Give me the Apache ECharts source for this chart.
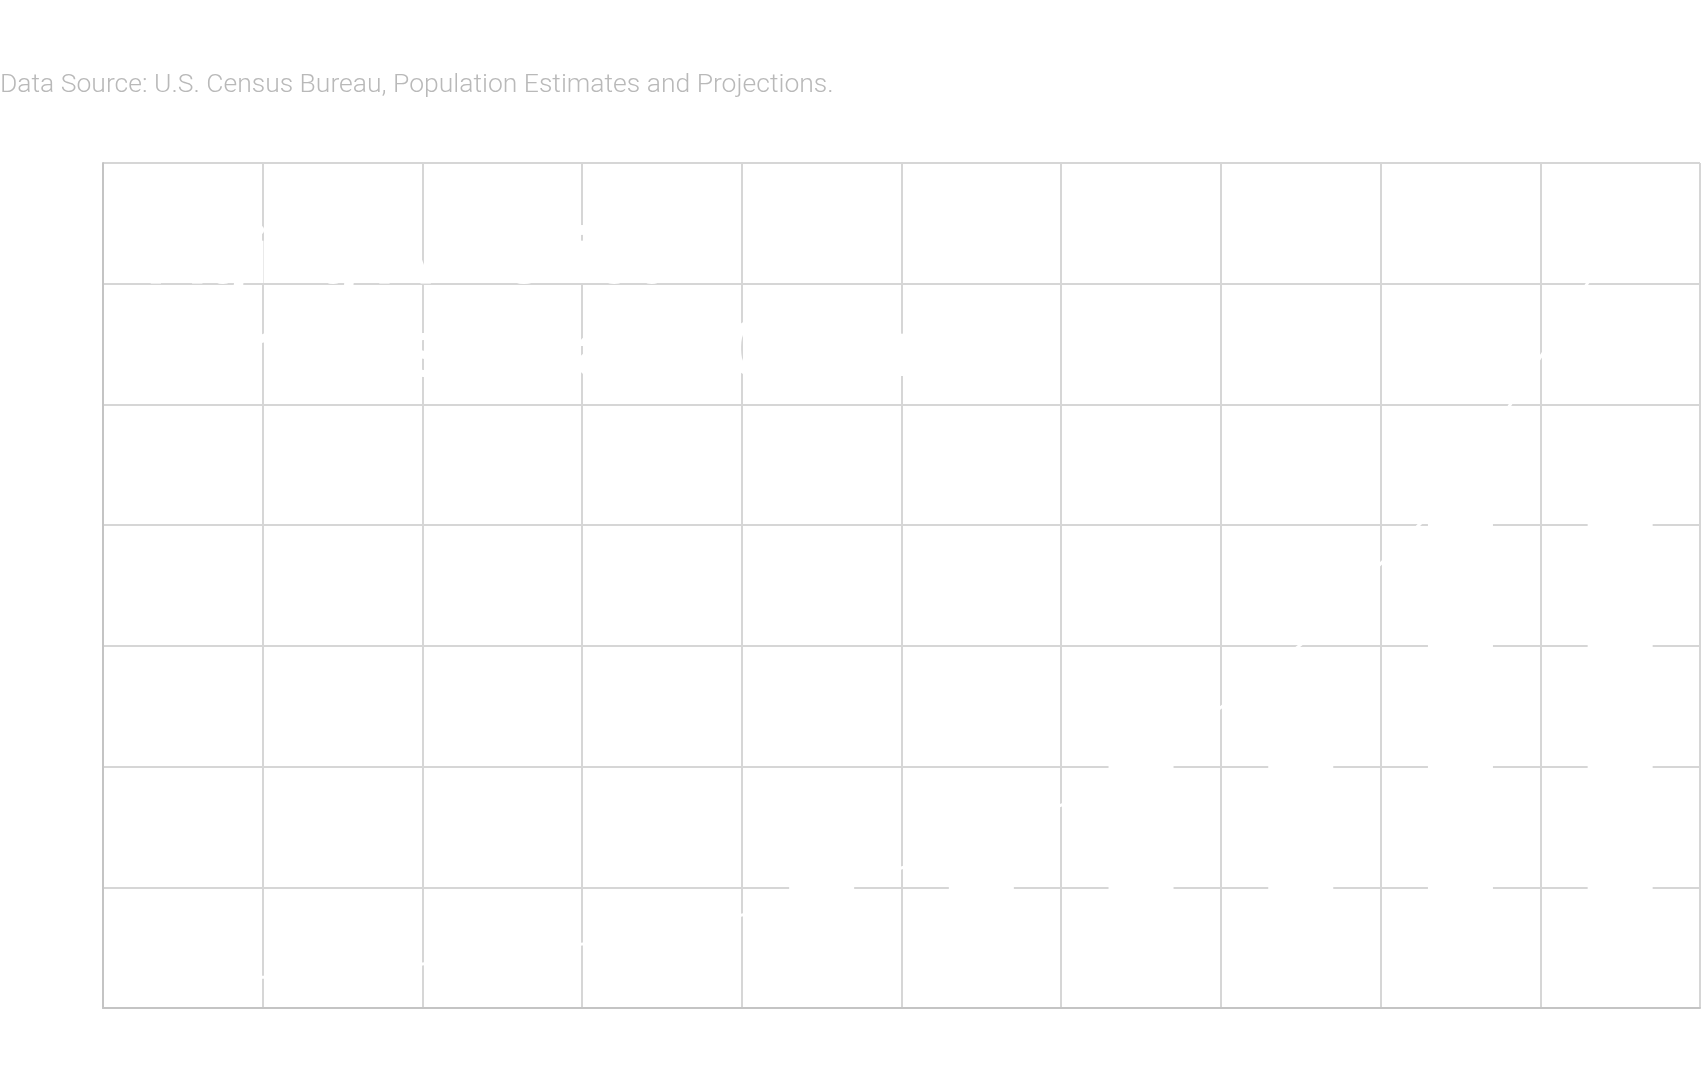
<!DOCTYPE html>
<html>
<head>
<meta charset="utf-8">
<script src="https://cdn.jsdelivr.net/npm/echarts@6/dist/echarts.min.js"></script>
<style>html,body{margin:0;padding:0;background:#fff}#c{width:1702px;height:1074px}</style>
</head>
<body>
<div id="c"></div>
<script>
const categories = ['1920','1930','1940','1950','1960','1970','1980','1990','2000','2010'];
const barValues = [3.5, 4.6, 6.4, 9.5, 14.5, 19.5, 24.5, 29.5, 43.5, 46.0];
const lineValues = [2.3, 2.8, 4.5, 6.1, 9.3, 13.9, 19.7, 30.1, 43.5, 64.3];
const yTicks = {min: 0, max: 70, interval: 10};
const titleLines = ['Aging America', 'Persons 65 and Older'];
const sourceText = 'Data Source: U.S. Census Bureau, Population Estimates and Projections.';

const W = '#ffffff';
const gridColor = '#d6d6d6';
const axisColor = '#c4c4c4';

const chart = echarts.init(document.getElementById('c'), null, {renderer: 'canvas'});
chart.setOption({
  backgroundColor: '#ffffff',
  animation: false,
  title: [
    {text: sourceText, left: 0, top: 72, padding: 0,
     textStyle: {fontFamily: 'Roboto', fontWeight: 300, fontSize: 26.5, color: '#b9b9b9'}},
    {text: titleLines.join('\n'), left: 150, top: 216, padding: 0, z: 10,
     textStyle: {fontFamily: 'Roboto', fontWeight: 500, fontSize: 80, lineHeight: 93, color: W}}
  ],
  grid: {left: 103, right: 2, top: 163, bottom: 66, containLabel: false},
  xAxis: [
    {
      type: 'category', data: categories, boundaryGap: true,
      axisLine: {show: false},
      axisTick: {show: false},
      axisLabel: {color: W, fontFamily: 'Roboto', fontSize: 20, margin: 14},
      splitLine: {show: true, lineStyle: {color: gridColor, width: 2}}
    },
    {
      type: 'category', data: categories, position: 'bottom', z: 10,
      axisLine: {show: true, lineStyle: {color: axisColor, width: 2}},
      axisTick: {show: false},
      axisLabel: {show: false},
      splitLine: {show: false}
    }
  ],
  yAxis: {
    type: 'value', min: yTicks.min, max: yTicks.max, interval: yTicks.interval,
    axisLine: {show: true, lineStyle: {color: axisColor, width: 2}},
    axisTick: {show: false},
    axisLabel: {color: W, fontFamily: 'Roboto', fontSize: 20},
    splitLine: {show: true, lineStyle: {color: gridColor, width: 2}}
  },
  series: [
    {type: 'bar', data: barValues, barWidth: 65, z: 3, xAxisIndex: 0,
     itemStyle: {color: W},
     label: {show: true, position: 'top', distance: 5, color: W, fontFamily: 'Roboto', fontSize: 22}},
    {type: 'line', data: lineValues, z: 4, xAxisIndex: 0, showSymbol: false,
     lineStyle: {color: W, width: 3}}
  ]
});
</script>
</body>
</html>
